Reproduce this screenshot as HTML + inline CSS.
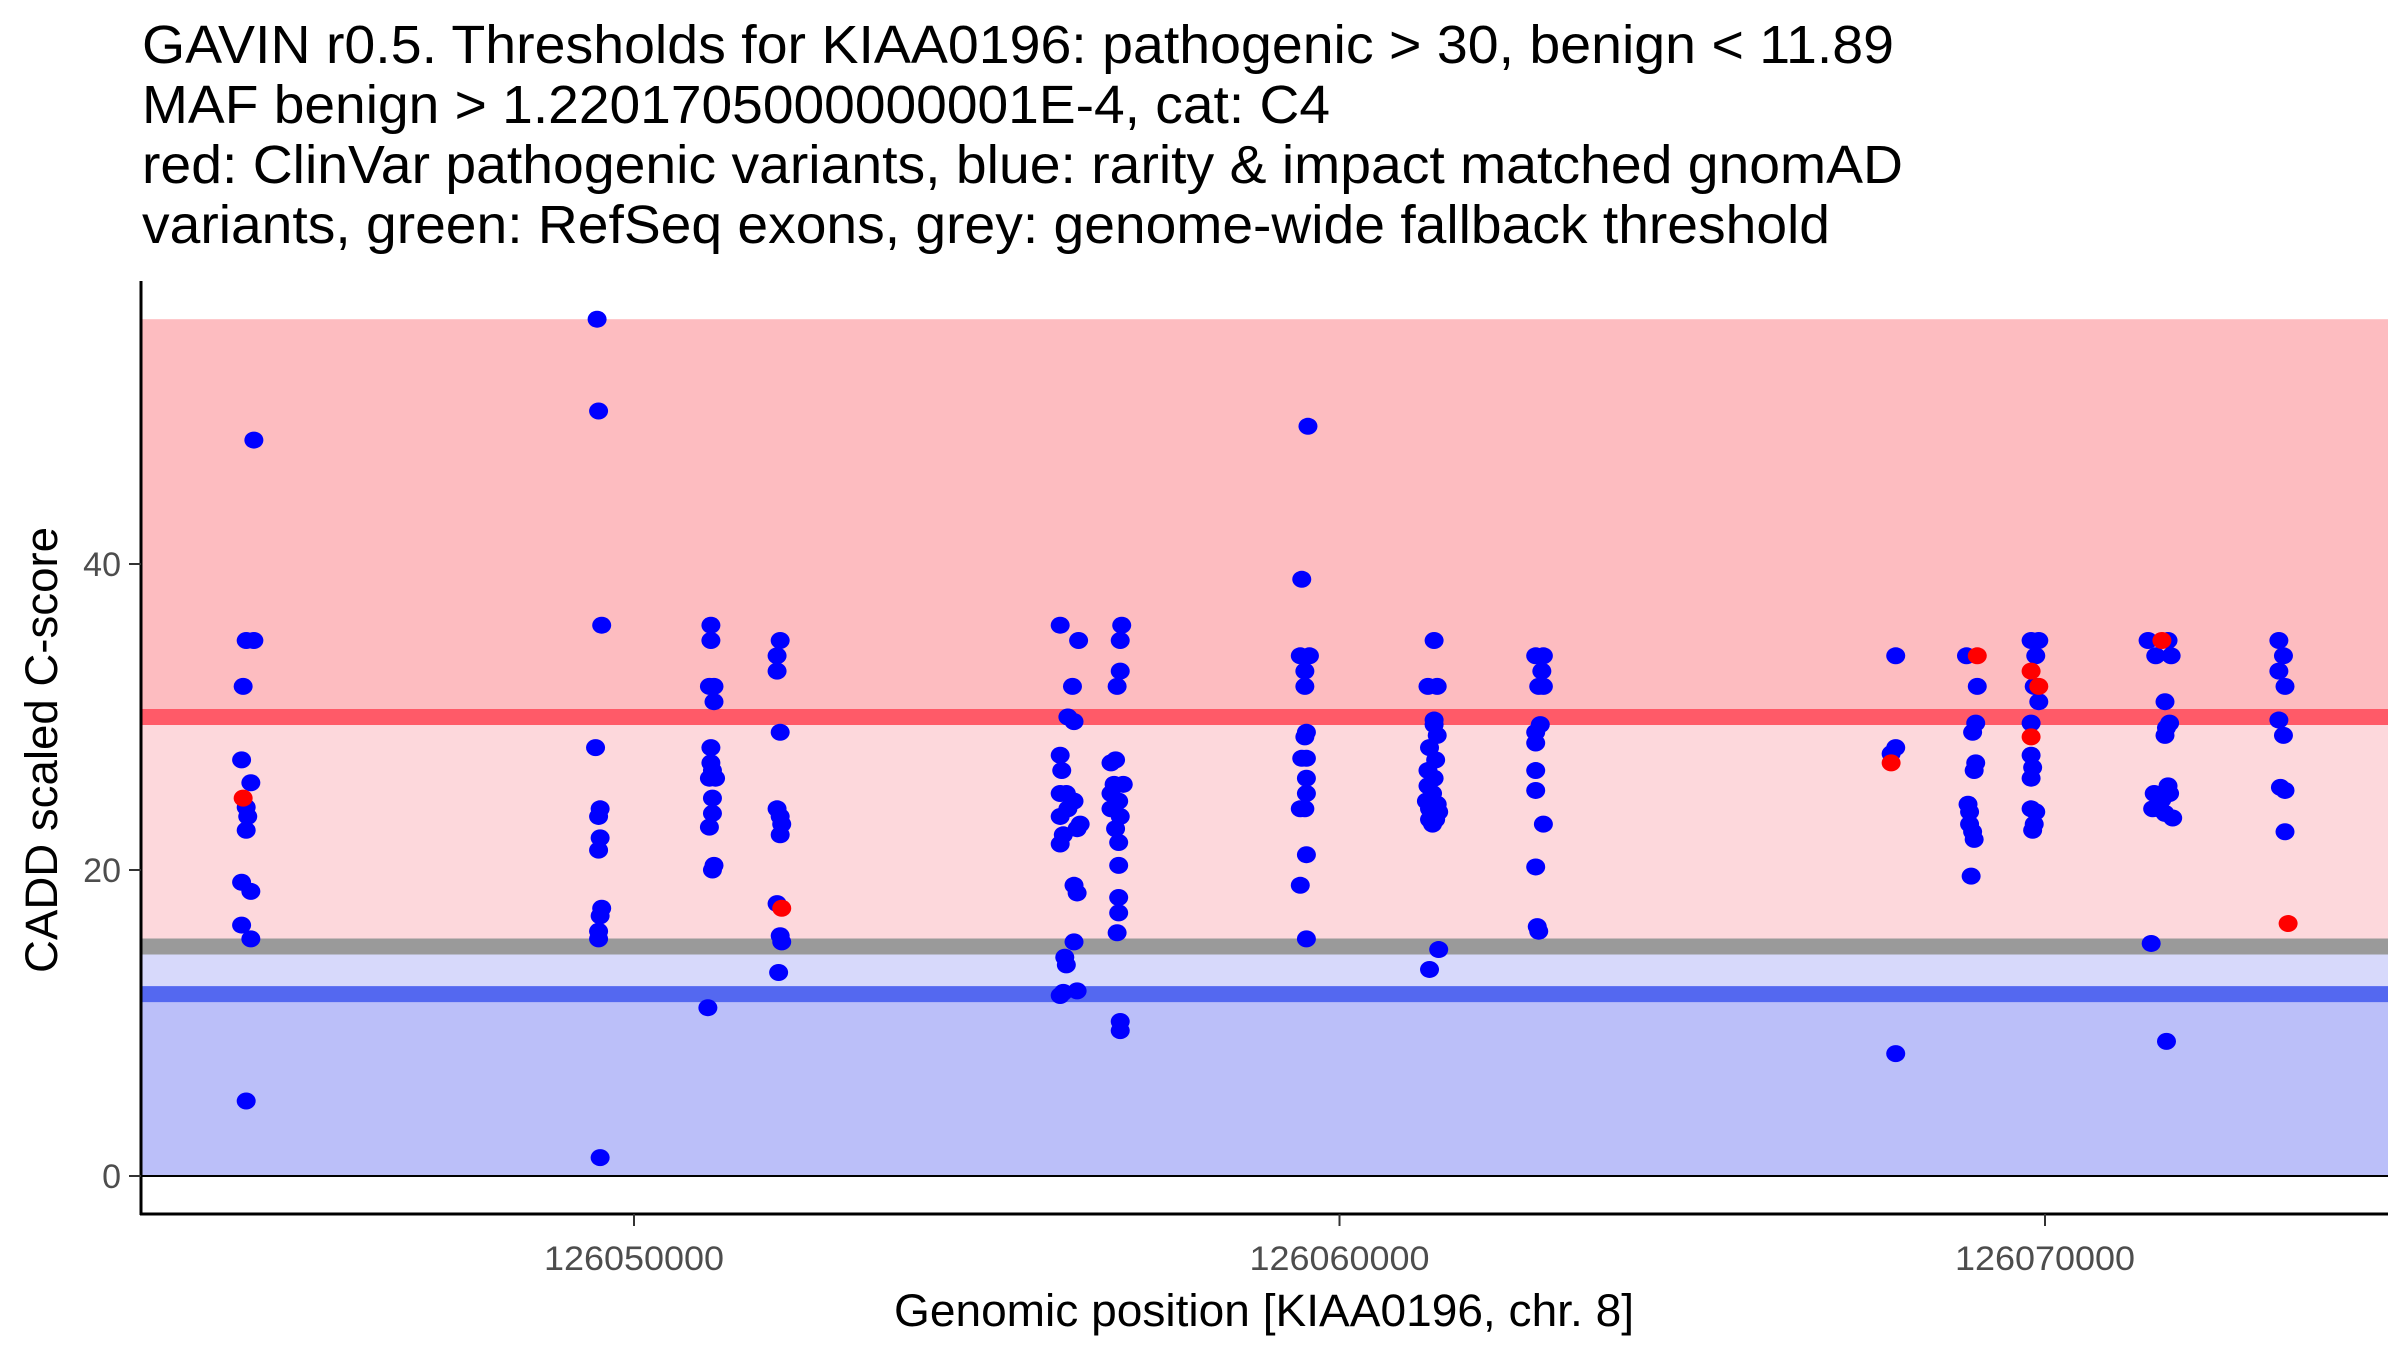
<!DOCTYPE html>
<html><head><meta charset="utf-8"><style>
html,body{margin:0;padding:0;background:#fff;}
svg{display:block;font-family:"Liberation Sans",sans-serif;}
</style></head><body>
<svg id="chart" width="2400" height="1350" viewBox="0 0 2400 1350" xmlns="http://www.w3.org/2000/svg">
<g font-size="54" fill="#000">
<text x="142" y="63" textLength="1752" lengthAdjust="spacingAndGlyphs">GAVIN r0.5. Thresholds for KIAA0196: pathogenic &gt; 30, benign &lt; 11.89</text>
<text x="142" y="123" textLength="1188" lengthAdjust="spacingAndGlyphs">MAF benign &gt; 1.2201705000000001E-4, cat: C4</text>
<text x="142" y="183" textLength="1761" lengthAdjust="spacingAndGlyphs">red: ClinVar pathogenic variants, blue: rarity &amp; impact matched gnomAD</text>
<text x="142" y="243" textLength="1688" lengthAdjust="spacingAndGlyphs">variants, green: RefSeq exons, grey: genome-wide fallback threshold</text>
</g>
<g id="bands"></g>
<g id="points"></g>
<g id="axes"></g>
</svg>
<script>
const yTicks = [0, 20, 40];
const xTicks = [126050000, 126060000, 126070000];
const xTickLabels = ["126050000", "126060000", "126070000"];
const pathogenicThreshold = 30;
const benignThreshold = 11.89;
const fallbackThreshold = 15;
const maxScore = 56;
const bluePos = [
126044612,126044503,126044612,126044460,126044438,126044569,126044503,126044525,126044503,126044438,126044569,126044438,126044569,126044503,
126049477,126049498,126049542,126049455,126049520,126049498,126049520,126049498,126049542,126049520,126049498,126049498,126049520,
126051090,126051090,126051069,126051134,126051134,126051090,126051090,126051112,126051069,126051156,126051112,126051112,126051069,126051134,126051112,126051047,
126052072,126052028,126052028,126052072,126052028,126052072,126052094,126052072,126052028,126052072,126052094,126052050,
126056041,126056302,126056215,126056150,126056237,126056041,126056063,126056128,126056041,126056237,126056150,126056041,126056324,126056281,126056085,126056041,126056237,126056281,126056237,126056106,126056128,126056085,126056281,126056041,
126056913,126056892,126056892,126056848,126056761,126056826,126056805,126056935,126056761,126056870,126056761,126056892,126056826,126056870,126056870,126056870,126056870,126056848,126056892,126056892,
126059553,126059465,126059444,126059574,126059509,126059509,126059531,126059509,126059465,126059531,126059531,126059531,126059444,126059509,126059531,126059444,126059531,
126061341,126061254,126061385,126061341,126061341,126061385,126061276,126061363,126061254,126061341,126061254,126061319,126061232,126061385,126061276,126061406,126061276,126061319,126061363,126061406,126061276,
126062781,126062890,126062868,126062824,126062890,126062846,126062781,126062781,126062781,126062781,126062890,126062781,126062803,126062824,
126067884,126067884,126067819,126067884,
126068887,126069040,126069018,126068974,126069018,126068996,126068909,126068931,126068931,126068974,126068996,126068953,
126069803,126069912,126069869,126069847,126069912,126069803,126069803,126069825,126069803,126069803,126069869,126069847,126069825,
126071461,126071744,126071570,126071788,126071701,126071766,126071722,126071701,126071548,126071744,126071766,126071657,126071526,126071613,126071701,126071810,126071505,126071722,
126073315,126073380,126073315,126073402,126073315,126073380,126073337,126073402,126073402
];
const blueScore = [
48.1,35,35,32,27.2,25.7,24.1,23.5,22.6,19.2,18.6,16.4,15.5,4.9,
56,50,36,28,24,23.5,22.1,21.3,17.5,17,16,15.5,1.2,
36,35,32,32,31,28,27,26.5,26,26,24.7,23.7,22.8,20.3,20,11,
35,34,33,29,24,23.5,23,22.3,17.8,15.7,15.3,13.3,
36,35,32,30,29.7,27.5,26.5,25,25,24.5,24,23.5,23,22.7,22.3,21.7,19,18.5,15.3,14.3,13.8,12,12.1,11.8,
36,35,33,32,27,27.2,25.6,25.6,25,24.5,24,23.5,22.7,21.8,20.3,18.2,17.2,15.9,10.1,9.5,
49,39,34,34,33,32,29,28.7,27.3,27.3,26,25,24,24,21,19,15.5,
35,32,32,29.8,29.5,28.8,28,27.2,26.5,26,25.5,25,24.5,24.3,24,23.8,23.3,23,23.3,14.8,13.5,
34,34,33,32,32,29.5,29,28.3,26.5,25.2,23,20.2,16.3,16,
34,28,27.6,8,
34,32,29.6,29,27,26.5,24.3,23.8,23,22.5,22,19.6,
35,35,34,32,31,29.6,27.5,26.7,26,24,23.8,23,22.6,
35,35,34,34,31,29.6,29.3,28.8,25,25.5,25,24.6,24,24,23.7,23.4,15.2,8.8,
35,34,33,32,29.8,28.8,25.4,25.2,22.5
];
const redPos = [126044460,126052094,126067819,126069040,126069803,126069912,126069803,126071657,126073446];
const redScore = [24.7,17.5,27,34,33,32,28.7,35,16.5];

const NS = "http://www.w3.org/2000/svg";
const X0 = 141, X1 = 2388, Y0 = 1214, YTOP = 281;
function xScale(p){ return 634 + (p - 126050000) * 0.07055; }
function yScale(v){ return 1176 - v * 15.3; }
function mk(tag, attrs, parent){
  const e = document.createElementNS(NS, tag);
  for (const k in attrs) e.setAttribute(k, attrs[k]);
  parent.appendChild(e); return e;
}
const bands = document.getElementById('bands');
function band(v1, v2, fill, name){
  const r = mk('rect', {x: X0, y: yScale(v2), width: X1 - X0, height: yScale(v1) - yScale(v2), fill: fill}, bands);
  
  
}
band(pathogenicThreshold, maxScore, '#FDBCC0', 'pathogenic-band');
band(fallbackThreshold, pathogenicThreshold, '#FDD8DC', 'intermediate-band');
band(benignThreshold, fallbackThreshold, '#D7D9FB', 'fallback-band');
band(0, benignThreshold, '#BBBFF9', 'benign-band');
function hline(v, color, w, name){
  const l = mk('line', {x1: X0, x2: X1, y1: yScale(v), y2: yScale(v), stroke: color, 'stroke-width': w}, bands);
  
  
}
hline(pathogenicThreshold, '#FF5A68', 16, 'pathogenic-threshold-line');
hline(fallbackThreshold, '#9A9A9A', 16, 'fallback-threshold-line');
hline(benignThreshold, '#5468F0', 16, 'benign-threshold-line');
hline(0, '#000', 2, 'zero-line');

const pts = document.getElementById('points');
for (let i = 0; i < bluePos.length; i++){
  const c = mk('ellipse', {cx: xScale(bluePos[i]), cy: yScale(blueScore[i]), rx: 9.5, ry: 8.5, fill: '#0000FF'}, pts);
  
  
}
for (let i = 0; i < redPos.length; i++){
  const c = mk('ellipse', {cx: xScale(redPos[i]), cy: yScale(redScore[i]), rx: 9.5, ry: 8.5, fill: '#FF0000'}, pts);
  
  
}

const ax = document.getElementById('axes');
const ya = mk('line', {x1: X0, x2: X0, y1: YTOP, y2: Y0 + 1, stroke: '#000', 'stroke-width': 3}, ax);


const xa = mk('line', {x1: X0 - 1, x2: X1, y1: Y0, y2: Y0, stroke: '#000', 'stroke-width': 3}, ax);


yTicks.forEach(function(v){
  const t = mk('line', {x1: X0 - 12, x2: X0, y1: yScale(v), y2: yScale(v), stroke: '#333', 'stroke-width': 2}, ax);
  
  
  const l = mk('text', {x: X0 - 20, y: yScale(v) + 12, 'text-anchor': 'end', 'font-size': 34, fill: '#4d4d4d'}, ax);
  l.textContent = String(v);
  
  
});
xTicks.forEach(function(p, i){
  const t = mk('line', {x1: xScale(p), x2: xScale(p), y1: Y0, y2: Y0 + 12, stroke: '#333', 'stroke-width': 2}, ax);
  
  
  const l = mk('text', {x: xScale(p), y: 1270, 'text-anchor': 'middle', 'font-size': 34, fill: '#4d4d4d', textLength: 180, lengthAdjust: 'spacingAndGlyphs'}, ax);
  l.textContent = xTickLabels[i];
  
  
});
const xt = mk('text', {x: 1264, y: 1326, 'text-anchor': 'middle', 'font-size': 45, fill: '#000', textLength: 740, lengthAdjust: 'spacingAndGlyphs'}, ax);
xt.textContent = 'Genomic position [KIAA0196, chr. 8]';


const yt = mk('text', {x: 0, y: 0, 'text-anchor': 'middle', 'font-size': 45, fill: '#000', transform: 'translate(57,750) rotate(-90)', textLength: 446, lengthAdjust: 'spacingAndGlyphs'}, ax);
yt.textContent = 'CADD scaled C-score';


</script>
</body></html>
